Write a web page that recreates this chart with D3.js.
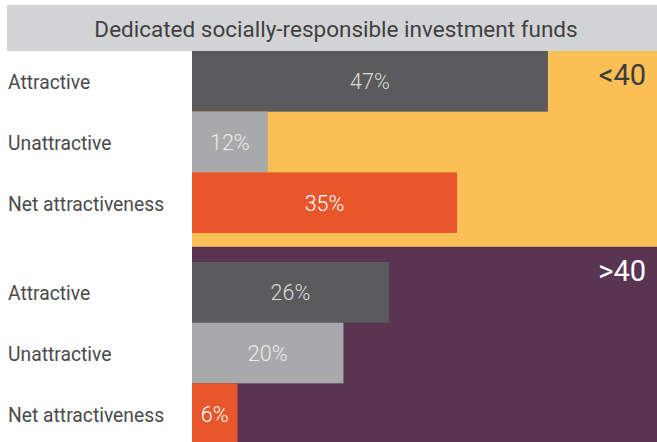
<!DOCTYPE html>
<html><head><meta charset="utf-8">
<script src="https://cdn.jsdelivr.net/npm/d3@7"></script>
<style>body{margin:0;background:#fff;}svg{display:block;font-family:Roboto,"Open Sans",sans-serif;}</style>
</head><body>
<svg id="chart" width="657" height="442"></svg>
<script>
const title = "Dedicated socially-responsible investment funds";
const categories = ["Attractive", "Unattractive", "Net attractiveness"];
const groups = ["<40", ">40"];
// bar lengths as drawn in the picture (%); the "12%" bar is drawn about 10% long in the reference
const under40 = [47, 10, 35];
const over40 = [26, 20, 6];
// value labels as printed
const under40Labels = ["47%", "12%", "35%"];
const over40Labels = ["26%", "20%", "6%"];

const W = 657, H = 442;
const svg = d3.select("#chart");
const barColors = ["#5b5b5d", "#a8a9ab", "#e8562b"];
const labelColors = ["#dcdcdc", "#ececec", "#ffffff"];
const panelColors = ["#fcbf55", "#593552"];
const groupTextColors = ["#3d3d3d", "#ffffff"];

const x = d3.scaleLinear().domain([0, 61.4]).range([192, 657]);

// title band
svg.append("rect").attr("x", 7).attr("y", 5).attr("width", W - 7).attr("height", 46).attr("fill", "#d2d3d5");
svg.append("text").attr("x", 336).attr("y", 37).attr("text-anchor", "middle")
  .attr("font-size", 22.5).attr("fill", "#404042").text(title);

const panels = [
  {name: groups[0], vals: under40, labels: under40Labels, top: 51, bottom: 246.7, barTop: 51},
  {name: groups[1], vals: over40, labels: over40Labels, top: 246.7, bottom: 446, barTop: 262}
];

panels.forEach((p, gi) => {
  const g = svg.append("g");
  g.append("rect").attr("x", x(0)).attr("y", p.top).attr("width", x.range()[1] - x(0))
    .attr("height", p.bottom - p.top).attr("fill", panelColors[gi]);
  const y = d3.scaleBand().domain(categories).range([p.barTop, p.barTop + 182]).padding(0);
  const data = categories.map((c, i) => ({c, v: p.vals[i], l: p.labels[i], i}));
  g.selectAll("rect.bar").data(data).join("rect").attr("class", "bar")
    .attr("x", x(0)).attr("y", d => y(d.c)).attr("width", d => x(d.v) - x(0))
    .attr("height", y.bandwidth()).attr("fill", d => barColors[d.i]);
  g.selectAll("text.val").data(data).join("text").attr("class", "val")
    .attr("x", d => (x(0) + x(d.v)) / 2).attr("y", d => y(d.c) + y.bandwidth() / 2 + 8)
    .attr("text-anchor", "middle").attr("font-size", 21.5).attr("font-weight", 300)
    .attr("fill", d => labelColors[d.i]).text(d => d.l);
  g.selectAll("text.cat").data(data).join("text").attr("class", "cat")
    .attr("x", 8).attr("y", d => y(d.c) + y.bandwidth() / 2 + 8)
    .attr("font-size", 19.3).attr("fill", "#4a4a4c").text(d => d.c);
  g.append("text").attr("x", 646).attr("y", p.top + 34).attr("text-anchor", "end")
    .attr("font-size", 29).attr("fill", groupTextColors[gi]).text(p.name);
});
</script>
</body></html>
